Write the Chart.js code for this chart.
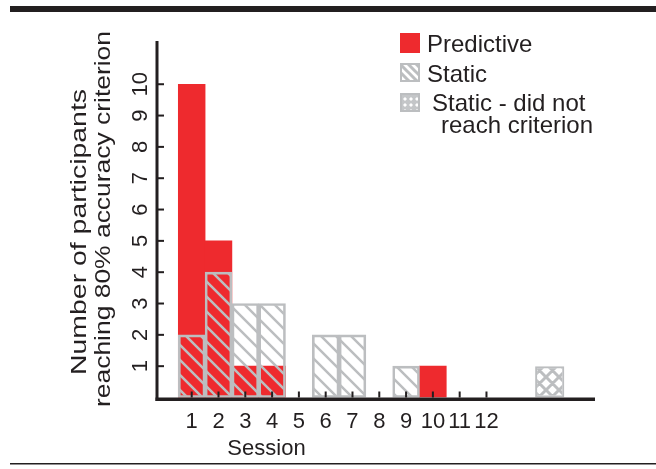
<!DOCTYPE html>
<html><head><meta charset="utf-8">
<script src="https://cdn.jsdelivr.net/npm/chart.js@4/dist/chart.umd.min.js"></script>
<style>html,body{margin:0;padding:0;background:#fff}canvas{display:block}</style>
</head><body>
<canvas id="c" width="656" height="469"></canvas>
<script>
// ---- data ----
const sessionTicks = [1,2,3,4,5,6,7,8,9,10,11,12];
const countTicks = [1,2,3,4,5,6,7,8,9,10];
const predictiveSessions = [1,2,3,4,10];
const predictiveCounts = [10,5,1,1,1];
const staticSessions = [1,2,3,4,6,7,9];
const staticCounts = [2,4,3,3,2,2,1];
const notReachedPosition = [14.36];
const notReachedCounts = [1];
const legendLabels = [['Predictive'], ['Static'], ['Static - did not', 'reach criterion']];
const xTitle = 'Session';
const yTitle = ['Number of participants', 'reaching 80% accuracy criterion'];

// ---- styles ----
const RED = '#ee2a2e';
const GRAY = '#bcbec0';
const INK = '#231f20';
const FONT = '"Liberation Sans", Arial, Helvetica, sans-serif';

function makePattern(size, width, color, cross, bg) {
  const c = document.createElement('canvas');
  c.width = c.height = size;
  const g = c.getContext('2d');
  if (bg) { g.fillStyle = bg; g.fillRect(0, 0, size, size); }
  g.strokeStyle = color; g.lineWidth = width;
  g.beginPath();
  for (const o of [-size, 0, size]) { g.moveTo(o - size, -size); g.lineTo(o + 2 * size, 2 * size); }
  if (cross) for (const o of [-size, 0, size]) { g.moveTo(o + 2 * size, -size); g.lineTo(o - size, 2 * size); }
  g.stroke();
  return g.createPattern(c, 'repeat');
}
function makeDots(size, r, dot, bg) {
  const c = document.createElement('canvas');
  c.width = c.height = size;
  const g = c.getContext('2d');
  g.fillStyle = bg; g.fillRect(0, 0, size, size);
  g.fillStyle = dot;
  const m = size / 2;
  g.beginPath();
  g.moveTo(m, m - r); g.lineTo(m + r, m); g.lineTo(m, m + r); g.lineTo(m - r, m); g.closePath();
  g.fill();
  return g.createPattern(c, 'repeat');
}
const hatch = makePattern(15, 2.5, GRAY, false);
const crossHatch = makePattern(13, 3, GRAY, true);
const hatchSmall = makePattern(8, 3, GRAY, false, '#fff');
const dotsSmall = makeDots(6, 2, '#fff', '#c4c6c8');

const axesPlugin = {
  id: 'axes',
  afterDraw(chart) {
    const { ctx, chartArea: a, scales: { x, y } } = chart;
    ctx.save();
    ctx.fillStyle = INK;
    // frame rules
    ctx.fillRect(10, 6, 646, 6);
    ctx.fillRect(10, 463, 646, 1.5);
    // axis lines
    ctx.fillRect(a.left - 1.5, a.top, 3, a.bottom + 3.5 - a.top);
    ctx.fillRect(a.left - 1.5, a.bottom, a.right - a.left + 1.5, 3.5);
    // y ticks + labels
    ctx.font = '22px ' + FONT;
    ctx.textAlign = 'center';
    ctx.textBaseline = 'alphabetic';
    for (const v of countTicks) {
      const py = y.getPixelForValue(v);
      ctx.fillRect(a.left, py - 1, 7, 2);
      ctx.save();
      ctx.translate(147, py);
      ctx.rotate(-Math.PI / 2);
      ctx.fillText(String(v), 0, 0);
      ctx.restore();
    }
    // x ticks + labels
    for (const v of sessionTicks) {
      const px = x.getPixelForValue(v);
      ctx.fillRect(px - 1, a.bottom - 6, 2, 6);
      ctx.fillText(String(v), px, 427.5);
    }
    // x title
    ctx.font = '22px ' + FONT;
    ctx.fillText(xTitle, 266.5, 455);
    // y title (two lines, rotated)
    const yLines = [{ t: yTitle[0], bx: 86, cy: 232, len: 286 }, { t: yTitle[1], bx: 110, cy: 219, len: 376 }];
    for (const L of yLines) {
      const w = ctx.measureText(L.t).width;
      ctx.save();
      ctx.translate(L.bx, L.cy);
      ctx.rotate(-Math.PI / 2);
      ctx.scale(L.len / w, 1);
      ctx.fillText(L.t, 0, 0);
      ctx.restore();
    }
    // legend
    ctx.textAlign = 'left';
    ctx.font = '24px ' + FONT;
    ctx.fillStyle = RED;
    ctx.fillRect(400, 33, 20, 20);
    ctx.fillStyle = hatchSmall;
    ctx.fillRect(400, 63, 20, 19);
    ctx.fillStyle = dotsSmall;
    ctx.fillRect(400, 93, 20, 19);
    ctx.strokeStyle = GRAY; ctx.lineWidth = 2;
    ctx.strokeRect(401, 64, 18, 17);
    ctx.strokeRect(401, 94, 18, 17);
    ctx.fillStyle = INK;
    ctx.fillText(legendLabels[0][0], 427, 52);
    ctx.fillText(legendLabels[1][0], 427, 82);
    ctx.fillText(legendLabels[2][0], 432, 111);
    ctx.fillText(legendLabels[2][1], 441, 133);
    ctx.restore();
  }
};

new Chart(document.getElementById('c').getContext('2d'), {
  type: 'bar',
  data: {
    datasets: [
      { label: 'Static', data: staticSessions.map((s, i) => ({ x: s, y: staticCounts[i] })),
        backgroundColor: hatch, borderColor: GRAY, borderWidth: 2, borderSkipped: false, order: 0 },
      { label: 'Predictive', data: predictiveSessions.map((s, i) => ({ x: s, y: predictiveCounts[i] })),
        backgroundColor: RED, borderWidth: 0, order: 1 },
      { label: 'Static - did not reach criterion', data: notReachedPosition.map((s, i) => ({ x: s, y: notReachedCounts[i] })),
        backgroundColor: crossHatch, borderColor: GRAY, borderWidth: 2, borderSkipped: false, barPercentage: 1.09, order: 0 }
    ]
  },
  options: {
    responsive: false, animation: false, devicePixelRatio: 1,
    layout: { padding: { left: 157, top: 41, right: 61, bottom: 71.5 } },
    datasets: { bar: { grouped: false, barPercentage: 1, categoryPercentage: 1 } },
    plugins: { legend: { display: false }, tooltip: { enabled: false } },
    scales: {
      x: { type: 'linear', display: false, offset: false, min: -0.295, max: 16.05,
           afterBuildTicks: s => { s.ticks = sessionTicks.map(v => ({ value: v })); } },
      y: { display: false, offset: false, min: 0, max: 11.38,
           afterBuildTicks: s => { s.ticks = countTicks.map(v => ({ value: v })); } }
    }
  },
  plugins: [axesPlugin]
});
</script>
</body></html>
